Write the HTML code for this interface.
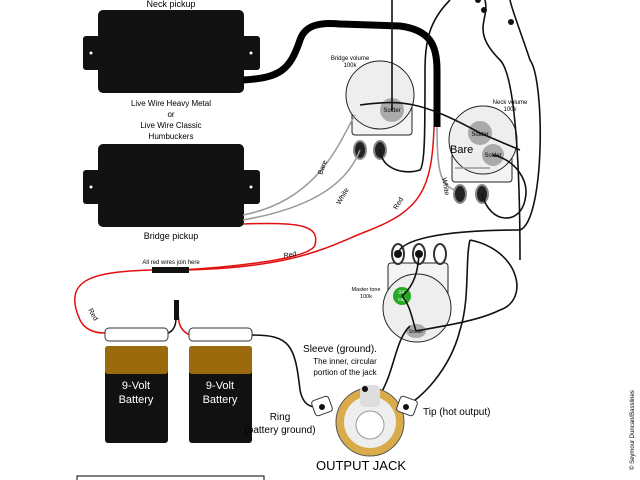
<!DOCTYPE html>
<html><head><meta charset="utf-8"><style>
html,body{margin:0;padding:0;background:#fff;}
svg{display:block;font-family:"Liberation Sans",sans-serif;}
</style></head><body>
<svg width="640" height="480" viewBox="0 0 640 480" xmlns="http://www.w3.org/2000/svg">
<rect width="640" height="480" fill="#fff"/>
<!-- neck pickup -->
<rect x="83" y="36" width="20" height="34" rx="3" fill="#111"/>
<rect x="240" y="36" width="20" height="34" rx="3" fill="#111"/>
<rect x="98" y="10" width="146" height="83" rx="5" fill="#111"/>
<circle cx="91" cy="53" r="1.5" fill="#fff"/><circle cx="251" cy="53" r="1.5" fill="#fff"/>
<text x="171" y="7" font-size="9" text-anchor="middle">Neck pickup</text>
<text x="171" y="106" font-size="8" text-anchor="middle">Live Wire Heavy Metal</text>
<text x="171" y="117" font-size="8" text-anchor="middle">or</text>
<text x="171" y="128" font-size="8" text-anchor="middle">Live Wire Classic</text>
<text x="171" y="139" font-size="8" text-anchor="middle">Humbuckers</text>
<!-- bridge pickup -->
<rect x="83" y="170" width="20" height="34" rx="3" fill="#111"/>
<rect x="240" y="170" width="20" height="34" rx="3" fill="#111"/>
<rect x="98" y="144" width="146" height="83" rx="5" fill="#111"/>
<circle cx="91" cy="187" r="1.5" fill="#fff"/><circle cx="251" cy="187" r="1.5" fill="#fff"/>
<text x="171" y="239" font-size="9" text-anchor="middle">Bridge pickup</text>
<!-- thick neck cable -->
<path d="M243 80 C280 78 290 70 300 40 C305 25 320 22 340 24 L400 26 C430 30 437 45 437 70 L437 127" fill="none" stroke="#000" stroke-width="7" stroke-linejoin="round"/>
<!-- pots: bridge volume -->
<text x="350" y="60" font-size="6" text-anchor="middle">Bridge volume</text>
<text x="350" y="67" font-size="6" text-anchor="middle">100k</text>
<rect x="352" y="105" width="60" height="30" rx="3" fill="#f4f4f4" stroke="#222"/>
<circle cx="380" cy="95" r="34" fill="#eee" stroke="#222"/>
<circle cx="392" cy="110" r="12" fill="#aaa"/>
<text x="392" y="112" font-size="6" text-anchor="middle">Solder</text>
<ellipse cx="360" cy="150" rx="6" ry="9" fill="#222" stroke="#888" stroke-width="2"/>
<ellipse cx="380" cy="150" rx="6" ry="9" fill="#222" stroke="#888" stroke-width="2"/>
<!-- neck volume -->
<text x="510" y="104" font-size="6" text-anchor="middle">Neck volume</text>
<text x="510" y="111" font-size="6" text-anchor="middle">100k</text>
<rect x="452" y="150" width="60" height="32" rx="3" fill="#f4f4f4" stroke="#222"/>
<circle cx="483" cy="140" r="34" fill="#eee" stroke="#222"/>
<circle cx="480" cy="133" r="12" fill="#aaa"/>
<text x="480" y="136" font-size="6" text-anchor="middle">Solder</text>
<circle cx="493" cy="155" r="11" fill="#aaa"/>
<text x="493" y="157" font-size="6" text-anchor="middle">Solder</text>
<text x="450" y="153" font-size="11">Bare</text>
<ellipse cx="460" cy="194" rx="6" ry="9" fill="#222" stroke="#888" stroke-width="2"/>
<ellipse cx="482" cy="194" rx="6" ry="9" fill="#222" stroke="#888" stroke-width="2"/>
<!-- master tone -->
<rect x="388" y="263" width="60" height="35" rx="3" fill="#f4f4f4" stroke="#222"/>
<circle cx="417" cy="308" r="34" fill="#eee" stroke="#222"/>
<ellipse cx="398" cy="254" rx="6" ry="10" fill="#fff" stroke="#333" stroke-width="2"/>
<ellipse cx="419" cy="254" rx="6" ry="10" fill="#fff" stroke="#333" stroke-width="2"/>
<ellipse cx="440" cy="254" rx="6" ry="10" fill="#fff" stroke="#333" stroke-width="2"/>
<circle cx="398" cy="254" r="4" fill="#111"/><circle cx="419" cy="254" r="4" fill="#111"/>
<circle cx="402" cy="296" r="9" fill="#2a2"/>
<text x="402" y="294" font-size="5" fill="#fff" text-anchor="middle">.047</text>
<text x="402" y="301" font-size="5" fill="#fff" text-anchor="middle">cap</text>
<ellipse cx="416" cy="331" rx="10" ry="7" fill="#aaa"/>
<text x="416" y="333" font-size="5" text-anchor="middle">Solder</text>
<text x="366" y="291" font-size="5.5" text-anchor="middle">Master tone</text>
<text x="366" y="298" font-size="5.5" text-anchor="middle">100k</text>
<!-- black wires -->
<g fill="none" stroke="#111" stroke-width="1.6">
<path d="M392 0 L392 110"/>
<path d="M380 150 C382 170 405 175 420 170 C425 165 425 130 425 70 C425 40 430 20 450 0"/>
<path d="M360 105 C400 100 420 100 480 133 L520 150"/>
<path d="M485 0 C490 20 470 30 500 60 C520 80 520 230 520 260"/>
<path d="M510 0 C512 10 520 30 530 60 C545 80 545 220 520 230 C440 230 400 240 398 254"/>
<path d="M482 194 C490 225 520 225 525 200 C530 180 515 160 493 155"/>
<path d="M419 254 C418 270 415 285 402 296"/>
<path d="M402 296 C410 305 412 318 416 331"/>
<path d="M416 331 C450 325 480 320 500 310 C530 300 520 250 470 240"/>
<path d="M410 326 C395 340 395 370 380 395 C378 400 378 400 375 405"/>
<path d="M470 240 C465 260 470 300 460 330 C450 370 420 400 405 406"/>
<path d="M252 335 C290 335 295 345 300 390 C303 405 310 408 322 407"/>
</g>
<circle cx="478" cy="0" r="3" fill="#111"/><circle cx="484" cy="10" r="3" fill="#111"/><circle cx="511" cy="22" r="3" fill="#111"/>
<!-- grey wires -->
<g fill="none" stroke="#999" stroke-width="1.5">
<path d="M355 115 C340 140 320 200 243 215"/>
<path d="M360 150 C345 190 300 210 243 220"/>
<path d="M437 127 C437 170 440 185 455 190"/>
<path d="M455 168 L490 168"/>
</g>
<text x="322" y="175" font-size="7" transform="rotate(-70 322 175)">Bare</text>
<text x="340" y="205" font-size="7" transform="rotate(-60 340 205)">White</text>
<text x="442" y="178" font-size="7" transform="rotate(80 442 178)">White</text>
<!-- red wires -->
<g fill="none" stroke="#e01010" stroke-width="1.5">
<path d="M243 224 C300 222 320 225 315 245 C310 260 220 268 180 270 L150 270 C100 272 60 276 80 320 C85 330 95 333 105 333"/>
<path d="M434 127 C432 190 420 210 370 230 C330 245 300 268 180 270"/>
<path d="M178 305 C178 320 178 330 190 335"/>
</g>
<text x="284" y="258" font-size="7" transform="rotate(-10 284 258)">Red</text>
<text x="397" y="210" font-size="7" transform="rotate(-60 397 210)">Red</text>
<text x="88" y="310" font-size="7" transform="rotate(60 88 310)">Red</text>
<rect x="152" y="267" width="37" height="6" fill="#111"/>
<text x="171" y="264" font-size="6" text-anchor="middle">All red wires join here</text>
<rect x="174" y="300" width="5" height="20" fill="#111"/>
<path d="M176 318 C176 330 170 333 165 334" fill="none" stroke="#111" stroke-width="1.5"/>
<!-- batteries -->
<rect x="105" y="328" width="63" height="13" rx="4" fill="#fff" stroke="#333"/>
<rect x="189" y="328" width="63" height="13" rx="4" fill="#fff" stroke="#333"/>
<rect x="105" y="346" width="63" height="97" rx="3" fill="#111"/>
<rect x="105" y="346" width="63" height="28" rx="3" fill="#9a6b0c"/>
<rect x="189" y="346" width="63" height="97" rx="3" fill="#111"/>
<rect x="189" y="346" width="63" height="28" rx="3" fill="#9a6b0c"/>
<text x="136" y="389" font-size="11" fill="#fff" text-anchor="middle">9-Volt</text>
<text x="136" y="403" font-size="11" fill="#fff" text-anchor="middle">Battery</text>
<text x="220" y="389" font-size="11" fill="#fff" text-anchor="middle">9-Volt</text>
<text x="220" y="403" font-size="11" fill="#fff" text-anchor="middle">Battery</text>
<!-- jack -->
<circle cx="370" cy="422" r="34" fill="#d9ab4a" stroke="#555"/>
<circle cx="370" cy="422" r="26" fill="#eee"/>
<circle cx="370" cy="425" r="14" fill="#fff" stroke="#999"/>
<rect x="360" y="385" width="20" height="22" rx="5" fill="#ddd"/>
<circle cx="365" cy="389" r="3" fill="#111"/>
<rect x="313" y="398" width="18" height="16" rx="3" fill="#fff" stroke="#333" transform="rotate(-20 322 406)"/>
<circle cx="322" cy="407" r="3" fill="#111"/>
<rect x="398" y="398" width="18" height="16" rx="3" fill="#fff" stroke="#333" transform="rotate(20 407 406)"/>
<circle cx="406" cy="407" r="3" fill="#111"/>
<text x="340" y="352" font-size="10" text-anchor="middle">Sleeve (ground).</text>
<text x="345" y="364" font-size="8" text-anchor="middle">The inner, circular</text>
<text x="345" y="375" font-size="8" text-anchor="middle">portion of the jack</text>
<text x="280" y="420" font-size="10" text-anchor="middle">Ring</text>
<text x="280" y="433" font-size="10" text-anchor="middle">(battery ground)</text>
<text x="423" y="415" font-size="10">Tip (hot output)</text>
<text x="361" y="470" font-size="13" text-anchor="middle">OUTPUT JACK</text>
<text x="634" y="470" font-size="6" transform="rotate(-90 634 470)">© Seymour Duncan/Basslines</text>
<rect x="77" y="476" width="187" height="10" fill="none" stroke="#000"/>
</svg>
</body></html>
